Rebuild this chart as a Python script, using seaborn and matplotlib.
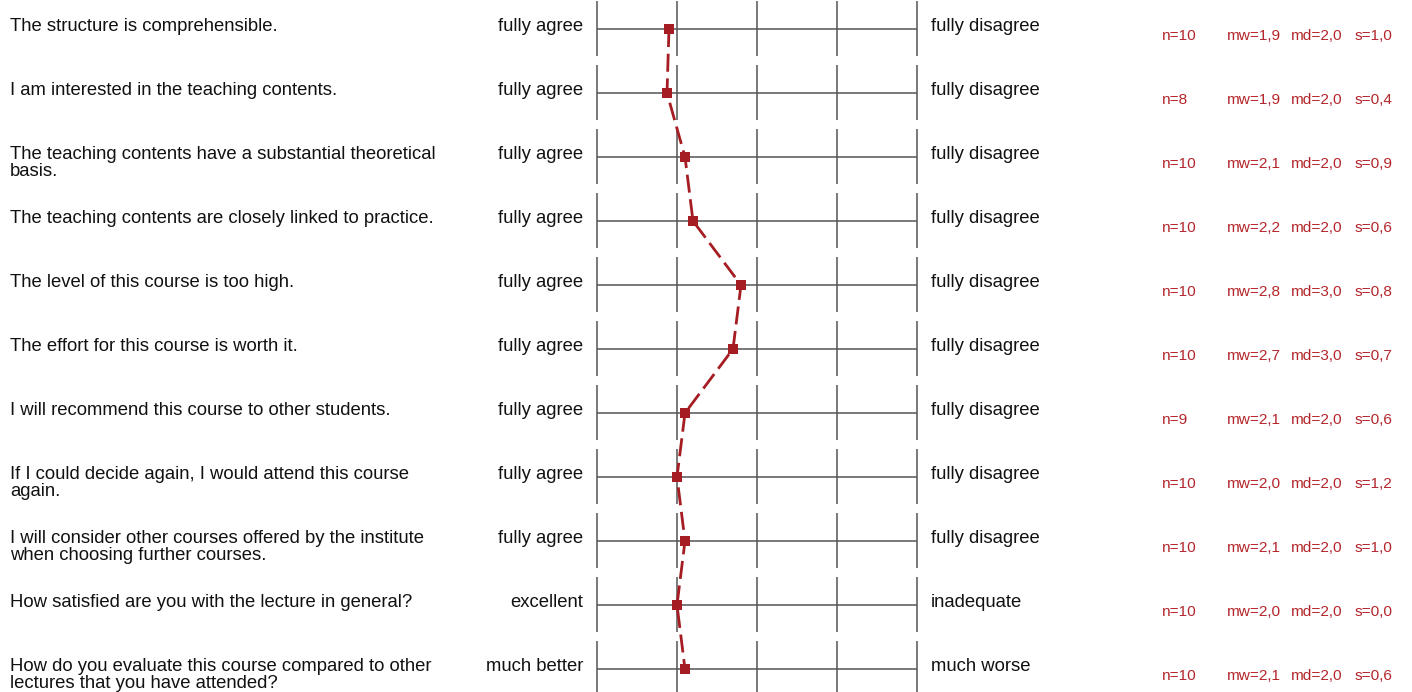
import numpy as np
import pandas as pd
import matplotlib
matplotlib.use('Agg')
import matplotlib.pyplot as plt
import matplotlib.transforms as mtransforms
import seaborn as sns

# survey items
questions = [
    "The structure is comprehensible.",
    "I am interested in the teaching contents.",
    "The teaching contents have a substantial theoretical\nbasis.",
    "The teaching contents are closely linked to practice.",
    "The level of this course is too high.",
    "The effort for this course is worth it.",
    "I will recommend this course to other students.",
    "If I could decide again, I would attend this course\nagain.",
    "I will consider other courses offered by the institute\nwhen choosing further courses.",
    "How satisfied are you with the lecture in general?",
    "How do you evaluate this course compared to other\nlectures that you have attended?",
]
left_labels = ["fully agree"] * 9 + ["excellent", "much better"]
right_labels = ["fully disagree"] * 9 + ["inadequate", "much worse"]

n_values = [10, 8, 10, 10, 10, 10, 9, 10, 10, 10, 10]
means = [1.9, 1.875, 2.1, 2.2, 2.8, 2.7, 2.1, 2.0, 2.1, 2.0, 2.1]
medians = [2.0, 2.0, 2.0, 2.0, 3.0, 3.0, 2.0, 2.0, 2.0, 2.0, 2.0]
sds = [1.0, 0.4, 0.9, 0.6, 0.8, 0.7, 0.6, 1.2, 1.0, 0.0, 0.6]
scale = [1, 2, 3, 4, 5]

sns.set_style('white')
plt.rcParams['font.family'] = ['Liberation Sans', 'DejaVu Sans']

W, H = 1412, 692
fig = plt.figure(figsize=(W / 100, H / 100), dpi=100)
ax = fig.add_axes([597 / W, 0, 320 / W, 1])
ax.set_xlim(1, 5)
ax.set_ylim(len(questions) - 1 + 23 / 64, -29 / 64)
ax.axis('off')

rows = np.arange(len(questions))
grid_col = '#555555'
red = '#a51d22'
stat_col = '#b3262c'

# scale grid for every item
ax.hlines(rows, 1, 5, color=grid_col, lw=1.1, clip_on=False)
for r in rows:
    ax.vlines(scale, r - 28 / 64, r + 27 / 64, color=grid_col, lw=1.1, clip_on=False)

# profile line
df = pd.DataFrame({'mean': means, 'row': rows})
sns.lineplot(data=df, x='mean', y='row', sort=False, estimator=None, ax=ax,
             color=red, lw=2.0, linestyle=(0, (6.5, 2.4)), marker='s',
             markersize=6.5, markeredgewidth=0, clip_on=False, zorder=5)

tr = mtransforms.blended_transform_factory(fig.transFigure, ax.transData)
fs = 13.3
sfs = 11.1


def fmt(v):
    return f"{v:.1f}".replace('.', ',')


for r in rows:
    yb = r + 2 / 64
    # question text, one line at a time
    for k, line in enumerate(questions[r].split('\n')):
        ax.text(10 / W, yb + k * 17 / 64, line, transform=tr, fontsize=fs,
                va='baseline', ha='left', color='#111111')
    ax.text(583 / W, yb, left_labels[r], transform=tr, fontsize=fs, va='baseline',
            ha='right', color='#111111')
    ax.text(931 / W, yb, right_labels[r], transform=tr, fontsize=fs, va='baseline',
            ha='left', color='#111111')
    ys = r + 11 / 64
    ax.text(1162 / W, ys, f"n={n_values[r]}", transform=tr, fontsize=sfs,
            va='baseline', color=stat_col)
    ax.text(1227 / W, ys, f"mw={fmt(means[r])}", transform=tr, fontsize=sfs,
            va='baseline', color=stat_col)
    ax.text(1291 / W, ys, f"md={fmt(medians[r])}", transform=tr, fontsize=sfs,
            va='baseline', color=stat_col)
    ax.text(1355 / W, ys, f"s={fmt(sds[r])}", transform=tr, fontsize=sfs,
            va='baseline', color=stat_col)

fig.savefig('out.png', dpi=100)
